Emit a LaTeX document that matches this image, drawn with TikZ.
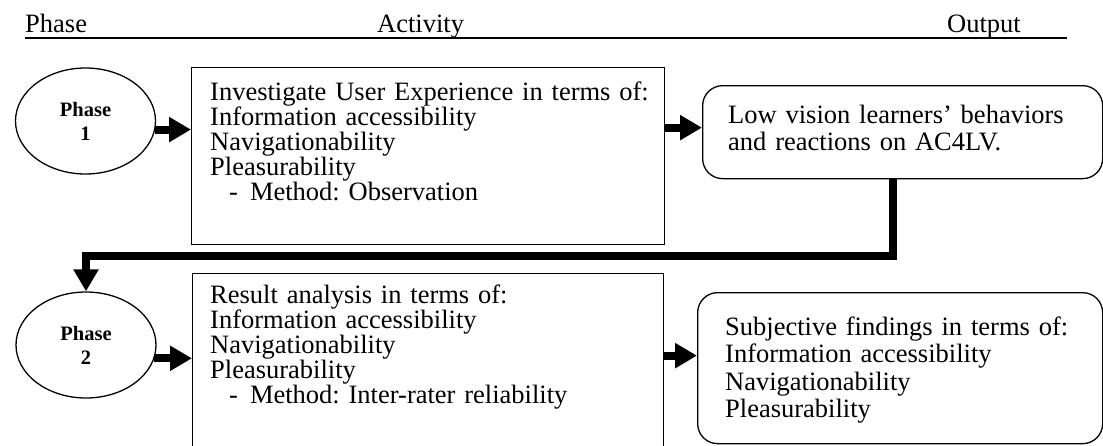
\documentclass[tikz,border=0pt]{standalone}
\usepackage{fontspec}
\setmainfont{Liberation Serif}
\frenchspacing
\usetikzlibrary{positioning,calc,arrows.meta,shapes.geometric}
\tikzset{
	ux study/.style={
		x=1pt,y=-1pt,
		font=\fontsize{26.5}{25}\selectfont,
		line join=miter
	},
	heading/.style={
		anchor=base west,
		inner sep=0pt
	},
	heading rule/.style={
		line width=2pt
	},
	phase node/.style={
		ellipse,
		draw,
		line width=1.3pt,
		minimum width=140pt,
		minimum height=106pt,
		inner sep=0pt,
		align=center,
		font=\fontsize{20.5}{24}\selectfont\bfseries
	},
	activity box/.style 2 args={% width, height
		rectangle,
		draw,
		line width=1.3pt,
		anchor=north west,
		inner sep=0pt,
		minimum width=#1,
		minimum height=#2
	},
	output box/.style 2 args={% width, height
		activity box={#1}{#2},
		rounded corners=20pt
	},
	box text/.style={
		anchor=base west,
		inner sep=0pt,
		text width=#1,
		align=left
	},
	output text/.style={
		box text=#1,
		font=\fontsize{26.5}{27.5}\selectfont
	},
	flow/.style={
		line width=8pt,
		-{Triangle[length=22pt,width=24pt]}
	}
}

\begin{document}
\begin{tikzpicture}[ux study]
	\useasboundingbox (0,0) rectangle (1103,445);
	\clip (0,0) rectangle (1103,445);

	% column headings
	\node[heading] (phase head) at (25,32) {Phase};
	\node[heading] (activity head) at (377,32) {Activity};
	\node[heading] (output head) at (947,32) {Output};
	\draw[heading rule] (25,38) -- (1067,38);

	% phase 1
	\node[phase node] (ph1) at (85.5,121) {Phase\\1};
	\node[activity box={473pt}{177pt}] (act1) at (191,67) {};
	\node[box text=445pt] (act1 text) at (210,100) {Investigate User Experience in terms of:\\
		Information accessibility\\
		Navigationability\\
		Pleasurability\\
		\hspace*{19pt}-\hspace*{12pt}Method: Observation};
	\node[output box={400pt}{93pt}] (out1) at (702,85) {};
	\node[output text=360pt] (out1 text) at (728,123) {Low vision learners’ behaviors\\
		and reactions on AC4LV.};

	% phase 2
	\node[phase node] (ph2) at (86,345) {Phase\\2};
	\node[activity box={471pt}{180pt}] (act2) at (192,273) {};
	\node[box text=445pt] (act2 text) at (210,303) {Result analysis in terms of:\\
		Information accessibility\\
		Navigationability\\
		Pleasurability\\
		\hspace*{19pt}-\hspace*{12pt}Method: Inter-rater reliability};
	\node[output box={405pt}{151pt}] (out2) at (697,292) {};
	\begin{scope}
		\clip (out2.north west) rectangle ($(out2.east)+(0,61)$); % text frame cuts the last line
		\node[output text=360pt] (out2 text) at (725,335) {Subjective findings in terms of:\\
			Information accessibility\\
			Navigationability\\
			Pleasurability};
	\end{scope}

	% arrows
	\coordinate (in out1) at ($(out1.west)+(0,-4.5)$);
	\coordinate (in out2) at ($(out2.west)+(0,-12.5)$);
	\coordinate (drop) at ($(out1.south)+(-10,0)$);
	\draw[flow] (ph1.-7) -- (ph1.-7 -| act1.west);
	\draw[flow] (act1.east |- in out1) -- (in out1);
	\draw[flow] (drop) |- ($(ph2.north)+(0,-35)$) -- (ph2.north);
	\draw[flow] (ph2.-11) -- (ph2.-11 -| act2.west);
	\draw[flow] (act2.east |- in out2) -- (in out2);
\end{tikzpicture}
\end{document}
